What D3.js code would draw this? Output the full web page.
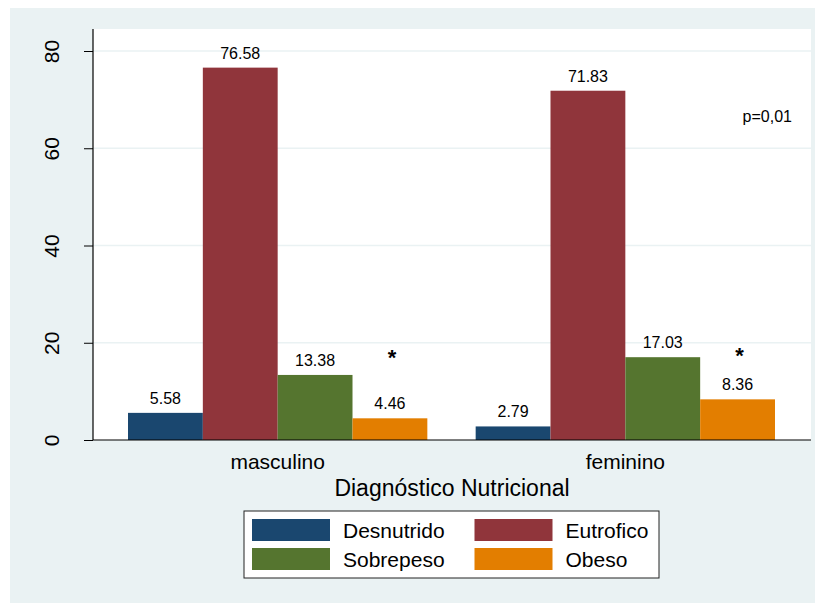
<!DOCTYPE html>
<html>
<head>
<meta charset="utf-8">
<script src="https://cdn.jsdelivr.net/npm/d3@7"></script>
<style>
  html, body { margin: 0; padding: 0; background: #ffffff; }
  svg { display: block; }
  text { font-family: "Liberation Sans", Arial, Helvetica, sans-serif; fill: #000; }
</style>
</head>
<body>
<svg id="chart" width="819" height="603"></svg>
<script>
// Nutritional diagnosis (%) by sex
const groups = ["masculino", "feminino"];
const categories = ["Desnutrido", "Eutrofico", "Sobrepeso", "Obeso"];
const desnutrido = [5.58, 2.79];
const eutrofico = [76.58, 71.83];
const sobrepeso = [13.38, 17.03];
const obeso = [4.46, 8.36];
const yTicks = [0, 20, 40, 60, 80];
const colors = ["#1a476f", "#90353b", "#55752f", "#e37e00"];
const significance = "*";
const pValue = "p=0,01";
const xTitle = "Diagnóstico Nutricional";

const seriesValues = [desnutrido, eutrofico, sobrepeso, obeso];
const rows = groups.map((g, gi) => ({
  group: g,
  values: categories.map((c, ci) => ({ cat: c, value: seriesValues[ci][gi] }))
}));

const svg = d3.select("#chart");
const W = 819, H = 603;

// outer graph region
svg.append("rect").attr("x", 10).attr("y", 8).attr("width", 805).attr("height", H - 8)
  .attr("fill", "#eaf2f3");

const plot = { left: 93, right: 811, top: 29, bottom: 440 };

svg.append("rect")
  .attr("x", plot.left).attr("y", plot.top)
  .attr("width", plot.right - plot.left).attr("height", plot.bottom - plot.top)
  .attr("fill", "#ffffff");

const y = d3.scaleLinear().domain([0, 80]).range([plot.bottom, 51]);

const x0 = d3.scaleBand().domain(groups)
  .range([plot.left + 35, plot.right - 36])
  .paddingInner(0.139).paddingOuter(0);
const x1 = d3.scaleBand().domain(categories).range([0, x0.bandwidth()]).padding(0);

// gridlines
svg.append("g").selectAll("line")
  .data(yTicks.filter(t => t > 0))
  .join("line")
  .attr("x1", plot.left).attr("x2", plot.right)
  .attr("y1", d => y(d)).attr("y2", d => y(d))
  .attr("stroke", "#eaf2f3").attr("stroke-width", 1.5);

// bars
const gGroups = svg.append("g").selectAll("g")
  .data(rows).join("g")
  .attr("transform", d => `translate(${x0(d.group)},0)`);

gGroups.selectAll("rect")
  .data(d => d.values).join("rect")
  .attr("x", d => x1(d.cat))
  .attr("width", x1.bandwidth())
  .attr("y", d => y(d.value))
  .attr("height", d => y(0) - y(d.value))
  .attr("fill", (d, i) => colors[i]);

gGroups.selectAll("text.val")
  .data(d => d.values).join("text")
  .attr("class", "val")
  .attr("x", d => x1(d.cat) + x1.bandwidth() / 2)
  .attr("y", d => y(d.value) - 9)
  .attr("text-anchor", "middle")
  .attr("font-size", 16)
  .text(d => d.value.toFixed(2));

// significance markers above the Obeso bars
gGroups.append("text")
  .attr("x", x1("Obeso") + x1.bandwidth() / 2 + 2)
  .attr("y", (d, i) => y(18) + 13 - i * 2)
  .attr("text-anchor", "middle")
  .attr("font-size", 22)
  .attr("font-weight", "bold")
  .text(significance);

// y axis
const yAxis = d3.axisLeft(y).tickValues(yTicks).tickSize(9).tickPadding(0).tickFormat(d3.format("d"));
const gy = svg.append("g").attr("transform", `translate(${plot.left},0)`).call(yAxis);
gy.select(".domain").remove();
gy.selectAll(".tick line").attr("stroke", "#000").attr("stroke-width", 1);
gy.selectAll(".tick text")
  .attr("font-size", 21)
  .attr("fill", "#000")
  .attr("x", null).attr("dy", null)
  .attr("text-anchor", "middle")
  .attr("transform", "translate(-34.5,0) rotate(-90)");
svg.append("line")
  .attr("x1", plot.left).attr("x2", plot.left)
  .attr("y1", plot.top).attr("y2", plot.bottom)
  .attr("stroke", "#000").attr("stroke-width", 1.2);

// x axis
const xAxis = d3.axisBottom(x0).tickSize(0).tickPadding(0);
const gx = svg.append("g").attr("transform", `translate(0,${plot.bottom})`).call(xAxis);
gx.select(".domain").remove();
gx.selectAll(".tick text")
  .attr("font-size", 21)
  .attr("fill", "#000")
  .attr("dy", null)
  .attr("y", 28.5);
svg.append("line")
  .attr("x1", plot.left).attr("x2", plot.right)
  .attr("y1", plot.bottom).attr("y2", plot.bottom)
  .attr("stroke", "#000").attr("stroke-width", 1.2);

svg.append("text")
  .attr("x", (plot.left + plot.right) / 2).attr("y", 496)
  .attr("text-anchor", "middle").attr("font-size", 23)
  .text(xTitle);

// p-value note
svg.append("text")
  .attr("x", plot.right - 19).attr("y", y(65.4))
  .attr("text-anchor", "end").attr("font-size", 16)
  .text(pValue);

// legend
const legend = svg.append("g").attr("transform", "translate(244,511)");
legend.append("rect").attr("width", 415).attr("height", 67)
  .attr("fill", "#ffffff").attr("stroke", "#222").attr("stroke-width", 1);
const items = legend.selectAll("g.item").data(categories).join("g")
  .attr("class", "item")
  .attr("transform", (d, i) => `translate(${8 + (i % 2) * 222.5},${8 + Math.floor(i / 2) * 29})`);
items.append("rect").attr("width", 78).attr("height", 22).attr("fill", (d, i) => colors[i]);
items.append("text").attr("x", 91).attr("y", 19).attr("font-size", 21).text(d => d);
</script>
</body>
</html>
